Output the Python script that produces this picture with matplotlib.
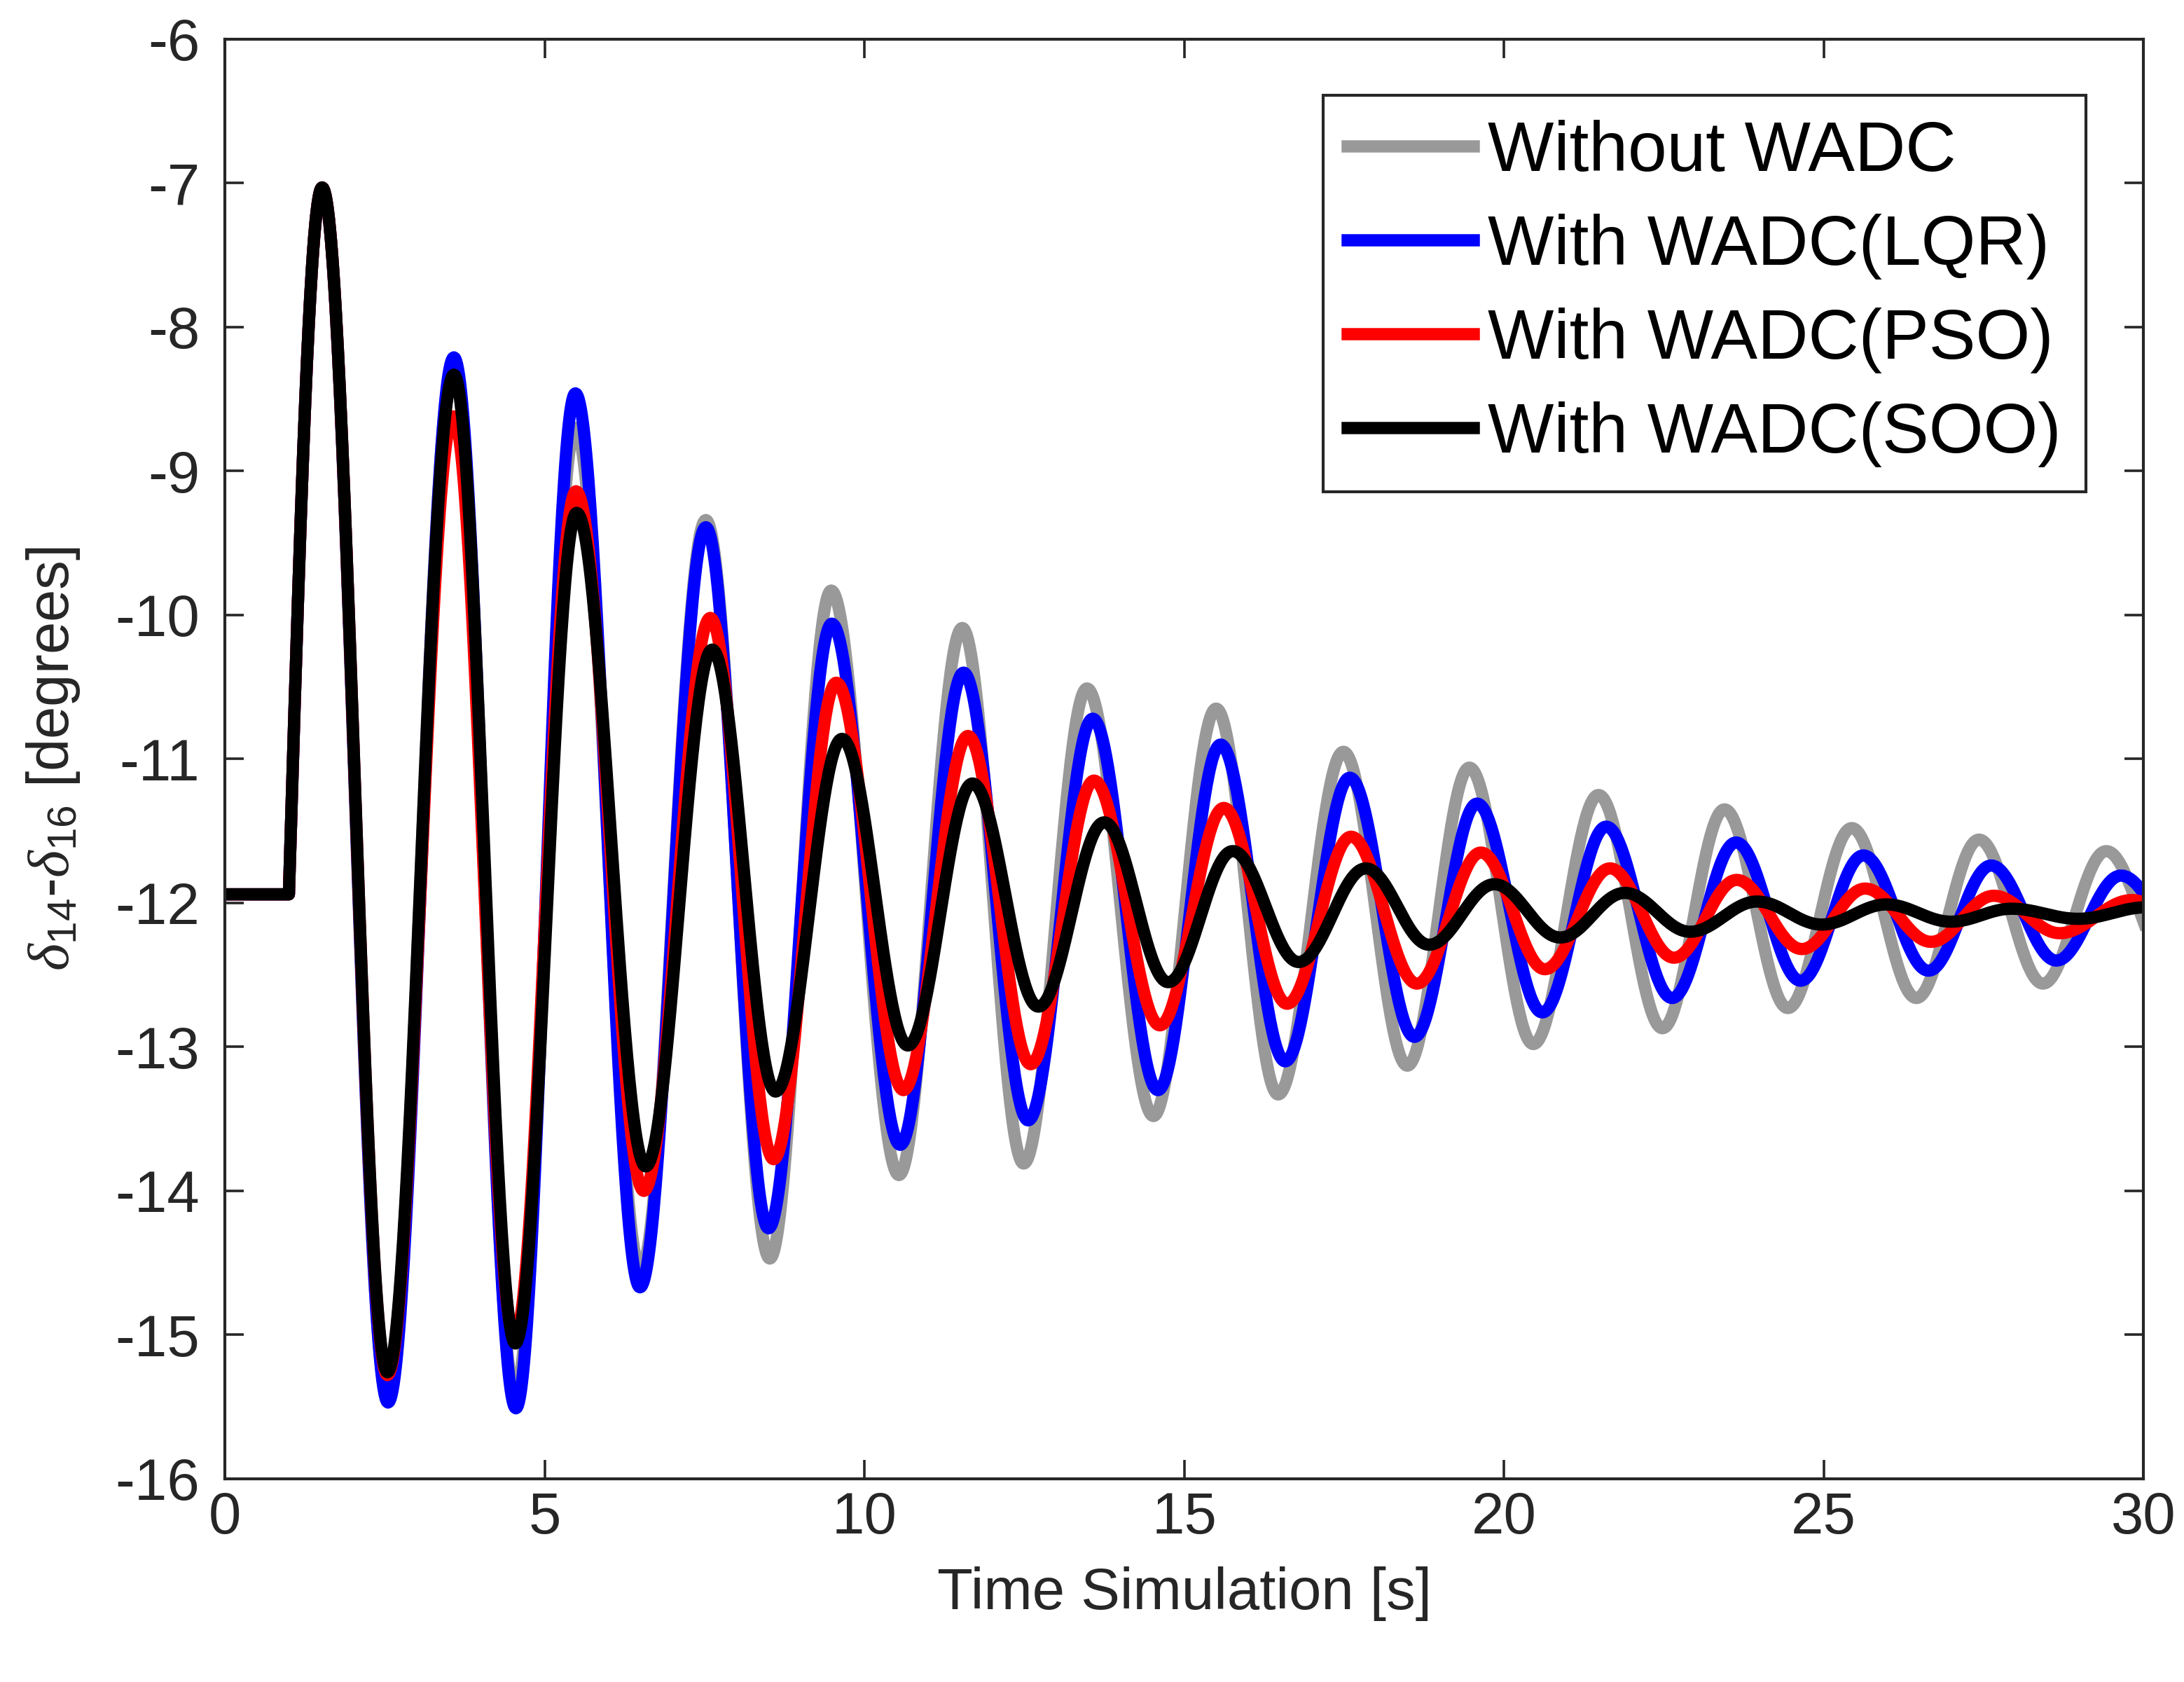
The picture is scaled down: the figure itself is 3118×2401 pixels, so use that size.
import numpy as np
import matplotlib
matplotlib.use("Agg")
import matplotlib.pyplot as plt

plt.rcParams['font.family'] = ['Liberation Sans', 'DejaVu Sans']
plt.rcParams['axes.unicode_minus'] = False
plt.rcParams['mathtext.fontset'] = 'custom'
plt.rcParams['mathtext.rm'] = 'Liberation Sans'
plt.rcParams['mathtext.it'] = 'Liberation Serif:italic'

# pre-disturbance level and step time
t_flat = [0.0, 1.0]
v_flat = [-11.94, -11.94]

# extrema (time, value) of each response
t_without = [1.52, 2.54, 3.57, 4.54, 5.48, 6.50, 7.52, 8.52, 9.48, 10.54, 11.53, 12.49,
             13.48, 14.52, 15.50, 16.47, 17.49, 18.49, 19.46, 20.46, 21.48, 22.48,
             23.45, 24.44, 25.44, 26.45, 27.43, 28.43, 29.42, 30.42]
v_without = [-7.03, -15.42, -8.28, -15.40, -8.70, -14.55, -9.34, -14.47, -9.83, -13.89,
             -10.09, -13.81, -10.51, -13.48, -10.65, -13.33, -10.95, -13.13, -11.06,
             -12.98, -11.25, -12.87, -11.35, -12.73, -11.48, -12.66, -11.56, -12.56,
             -11.64, -12.42]

t_lqr = [1.52, 2.55, 3.58, 4.55, 5.48, 6.49, 7.52, 8.50, 9.49, 10.56, 11.55, 12.56,
         13.57, 14.59, 15.57, 16.58, 17.59, 18.60, 19.58, 20.60, 21.60, 22.63,
         23.63, 24.64, 25.62, 26.64, 27.62, 28.64, 29.65, 30.65]
v_lqr = [-7.03, -15.47, -8.21, -15.51, -8.46, -14.67, -9.39, -14.26, -10.06, -13.68,
         -10.40, -13.51, -10.72, -13.30, -10.90, -13.10, -11.13, -12.93, -11.31,
         -12.76, -11.47, -12.66, -11.58, -12.54, -11.67, -12.47, -11.74, -12.40,
         -11.81, -12.25]

t_pso = [1.52, 2.54, 3.57, 4.53, 5.49, 6.55, 7.59, 8.58, 9.56, 10.61, 11.62, 12.60,
         13.59, 14.62, 15.62, 16.61, 17.61, 18.64, 19.64, 20.64, 21.66, 22.66,
         23.64, 24.66, 25.65, 26.68, 27.66, 28.69, 29.82, 30.85]
v_pso = [-7.03, -15.28, -8.62, -15.02, -9.14, -14.00, -10.02, -13.78, -10.47, -13.30,
         -10.84, -13.12, -11.15, -12.85, -11.34, -12.70, -11.54, -12.56, -11.65,
         -12.46, -11.76, -12.38, -11.84, -12.32, -11.90, -12.27, -11.95, -12.21,
         -11.98, -12.20]

t_soo = [1.52, 2.54, 3.58, 4.54, 5.50, 6.58, 7.62, 8.61, 9.65, 10.68, 11.69, 12.72,
         13.75, 14.75, 15.76, 16.79, 17.84, 18.83, 19.85, 20.88, 21.89, 22.91,
         23.96, 24.97, 25.98, 26.99, 27.94, 28.98, 30.05]
v_soo = [-7.03, -15.26, -8.33, -15.06, -9.29, -13.83, -10.24, -13.31, -10.86, -12.99,
         -11.17, -12.72, -11.44, -12.55, -11.64, -12.41, -11.76, -12.29, -11.87,
         -12.24, -11.93, -12.20, -11.99, -12.15, -12.01, -12.13, -12.04, -12.11,
         -12.03]

labels = ['Without WADC', 'With WADC(LQR)', 'With WADC(PSO)', 'With WADC(SOO)']
colors = ['#999999', '#0000ff', '#ff0000', '#000000']


def trace(t_ext, v_ext, n=60):
    # smooth swing between successive extrema; first swing leaves the step at full slope
    ts = list(t_flat)
    vs = list(v_flat)
    pts_t = [t_flat[-1]] + t_ext
    pts_v = [v_flat[-1]] + v_ext
    s = np.linspace(0, 1, n)[1:]
    for i in range(len(pts_t) - 1):
        if i == 0:
            shape = np.sin(np.pi / 2 * s)
        else:
            shape = (1 - np.cos(np.pi * s)) / 2
        ts.extend(pts_t[i] + (pts_t[i + 1] - pts_t[i]) * s)
        vs.extend(pts_v[i] + (pts_v[i + 1] - pts_v[i]) * shape)
    return np.array(ts), np.array(vs)


fig = plt.figure(figsize=(15.59, 12.005), dpi=200)
ax = fig.add_axes([0.103, 0.1208, 0.8784, 0.8559])

series = [(t_without, v_without), (t_lqr, v_lqr), (t_pso, v_pso), (t_soo, v_soo)]
for (tt, vv), lab, col in zip(series, labels, colors):
    x, y = trace(tt, vv)
    ax.plot(x, y, color=col, lw=6.3, label=lab, solid_joinstyle='round')

ax.set_xlim(0, 30)
ax.set_ylim(-16, -6)
ax.set_xticks(np.arange(0, 31, 5))
ax.set_yticks(np.arange(-16, -5, 1))

axc = '#262626'
for sp in ax.spines.values():
    sp.set_linewidth(1.5)
    sp.set_color(axc)
ax.tick_params(direction='in', length=9.7, width=1.3, colors=axc, labelsize=30,
               top=True, right=True)
ax.tick_params(axis='x', pad=6)
ax.tick_params(axis='y', pad=13)

ax.set_xlabel('Time Simulation [s]', fontsize=30, color=axc, labelpad=11)
ax.set_ylabel(r'$\delta_{14}$-$\delta_{16}$ [degrees]', fontsize=30, color=axc,
              labelpad=17)

leg = ax.legend(loc='upper right', bbox_to_anchor=(0.970, 0.961), borderaxespad=0,
                fontsize=36, handlelength=1.8, handletextpad=0.2, labelspacing=0.4,
                borderpad=0.35, fancybox=False, framealpha=1, edgecolor='#262626')
leg.get_frame().set_linewidth(1.5)

fig.savefig('out.png', dpi=200)
